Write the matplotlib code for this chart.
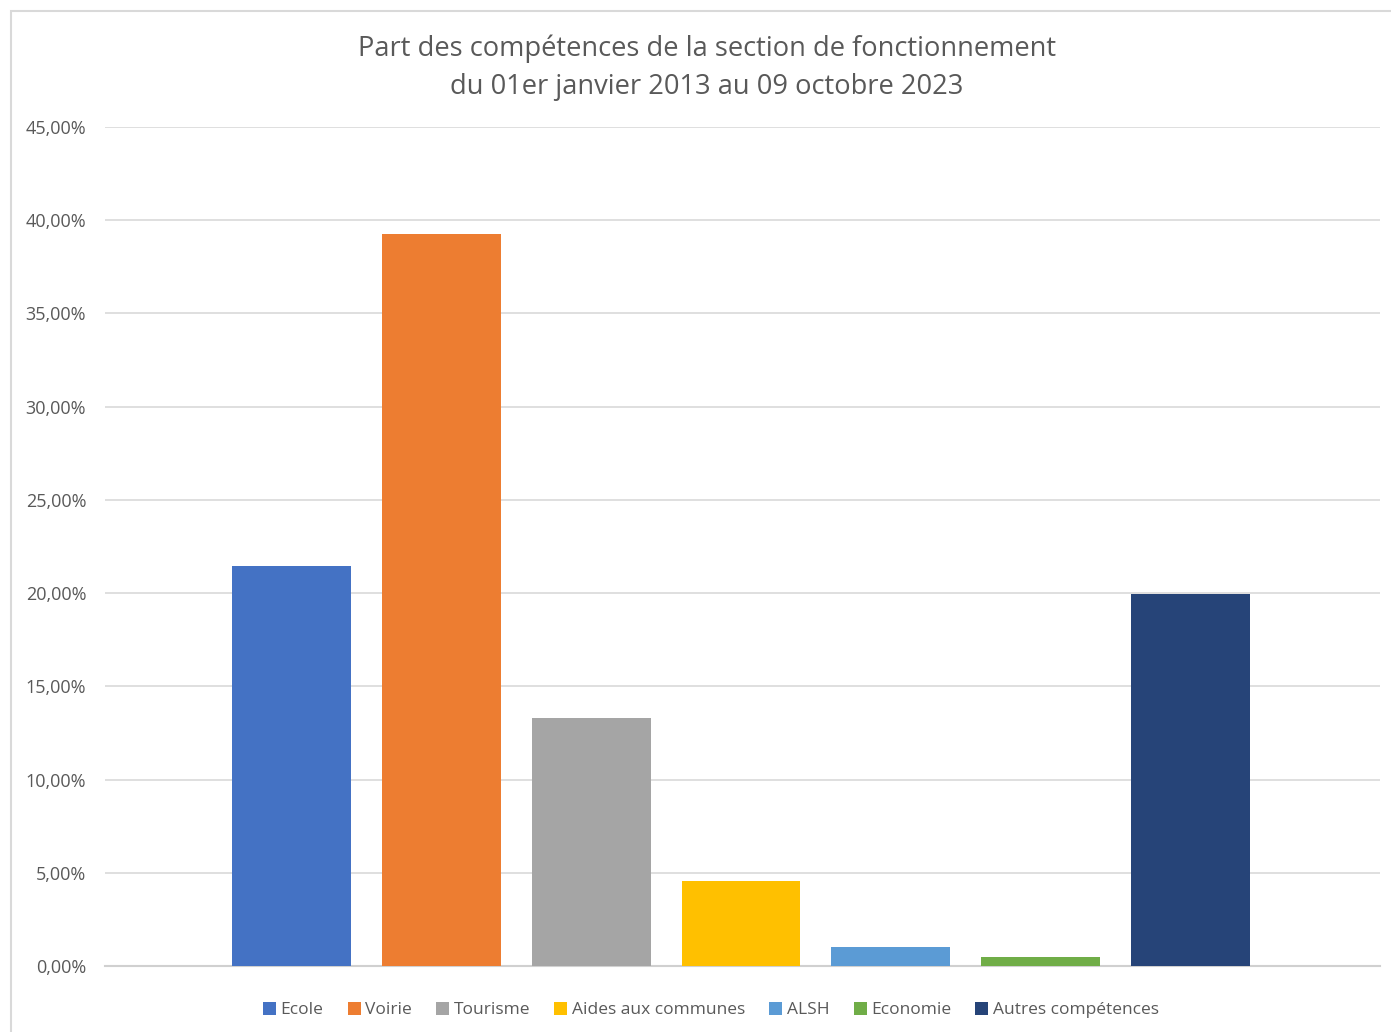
import matplotlib
matplotlib.use("Agg")
import matplotlib.pyplot as plt
from matplotlib.patches import Rectangle
from matplotlib.ticker import FuncFormatter

categories = ["Ecole", "Voirie", "Tourisme", "Aides aux communes", "ALSH", "Economie", "Autres compétences"]
values = [21.46, 39.27, 13.30, 4.56, 1.02, 0.48, 19.96]
colors = ["#4472C4", "#ED7D31", "#A5A5A5", "#FFC000", "#5B9BD5", "#70AD47", "#264478"]
yticks = [0, 5, 10, 15, 20, 25, 30, 35, 40, 45]
title = "Part des compétences de la section de fonctionnement\ndu 01er janvier 2013 au 09 octobre 2023"

plt.rcParams['font.family'] = ['Open Sans', 'DejaVu Sans']
txt = "#595959"

W, H = 1391, 1032
fig = plt.figure(figsize=(W / 100, H / 100), dpi=100)
fig.patch.set_facecolor("white")

# chart border
fig.patches.append(Rectangle((11 / W, -0.01), 1.02, 1 - 11 / H + 0.01, transform=fig.transFigure,
                             fill=False, edgecolor="#D9D9D9", linewidth=1.5))

ax = fig.add_axes([105 / W, 1 - 966 / H, (1380 - 105) / W, (966 - 127) / H])
for i, (c, v, col) in enumerate(zip(categories, values, colors)):
    ax.bar(i, v, width=0.793, color=col, label=c, zorder=3)

ax.set_xlim(-1.247, 6 + 1.267)
ax.set_ylim(0, 45)
ax.set_yticks(yticks)
ax.yaxis.set_major_formatter(FuncFormatter(lambda v, p: f"{v:.2f}".replace(".", ",") + "%"))
ax.set_xticks([])
ax.tick_params(axis="y", length=0, pad=13.5, labelsize=13, labelcolor=txt)
ax.grid(axis="y", color="#D9D9D9", linewidth=1.2, zorder=0)
for s in ["top", "right", "left"]:
    ax.spines[s].set_visible(False)
ax.spines["bottom"].set_color("#D0D0D0")
ax.spines["bottom"].set_linewidth(1.5)

fig.text(707 / W, 1 - 68 / H, title, ha="center", va="center", fontsize=19.6, color=txt, linespacing=1.48)

leg = fig.legend(loc="center", bbox_to_anchor=(711 / W, 1 - 1010 / H), ncol=7, frameon=False,
                 fontsize=12.5, handlelength=0.75, handleheight=0.75, handletextpad=0.25,
                 columnspacing=1.4, labelcolor=txt)

fig.savefig("out.png", dpi=100, facecolor="white")
